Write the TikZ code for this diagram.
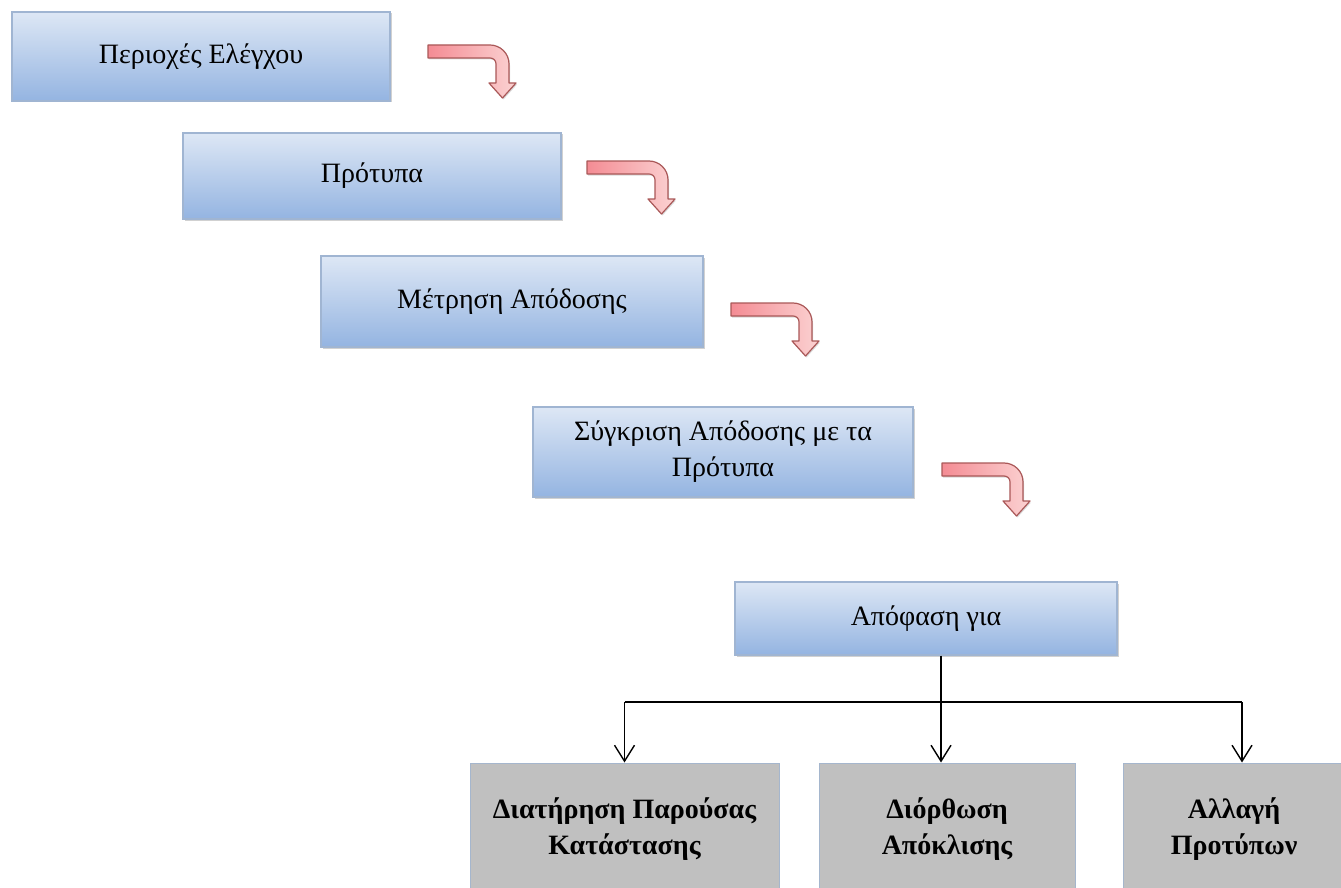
\documentclass[tikz,border=0pt]{standalone}
\usepackage{fontspec}
\setmainfont{Liberation Serif}
\usetikzlibrary{arrows.meta,shadows,calc}
\definecolor{btop}{RGB}{221,231,245}
\definecolor{bmid}{RGB}{198,214,239}
\definecolor{bbot}{RGB}{148,180,225}
\definecolor{bline}{RGB}{160,181,210}
\definecolor{gfill}{RGB}{192,192,192}
\definecolor{gline}{RGB}{165,182,205}
\definecolor{afillA}{RGB}{244,140,148}
\definecolor{afillB}{RGB}{251,210,210}
\definecolor{aline}{RGB}{170,88,88}
\tikzset{
  bluebox/.style={rectangle, draw=bline, line width=1.2pt, top color=btop, middle color=bmid, bottom color=bbot,
    inner sep=0pt, align=center, font=\fontsize{28}{36}\selectfont,
    drop shadow={shadow xshift=1.5pt, shadow yshift=-1.5pt, opacity=0.18, fill=black}},
  graybox/.style={rectangle, draw=gline, line width=1pt, fill=gfill, inner sep=0pt, align=center,
    font=\bfseries\fontsize{28}{36}\selectfont},
  conn/.style={line width=1.4pt, draw=black},
  connarrow/.style={conn, -{Straight Barb[length=16pt,width=20pt]}},
  redarrow/.style={draw=aline, line width=1.2pt, left color=afillA, right color=afillB, line join=round,
    drop shadow={shadow xshift=1pt, shadow yshift=-1.5pt, opacity=0.15, fill=black}},
  bendarrow/.pic={
    \path[redarrow] (0,0) -- (62,0) .. controls (72,0) and (81,8) .. (81,19) -- (81,38) -- (88,38)
      -- (74.5,53) -- (61,38) -- (68,38) -- (68,19) .. controls (68,15.5) and (65.5,13) .. (62,13)
      -- (0,13) -- cycle;
  }
}
\begin{document}
\begin{tikzpicture}[x=1pt,y=-1pt]
\useasboundingbox (0,0) rectangle (1341,888);
\clip (0,0) rectangle (1341,888);
\fill[white] (0,0) rectangle (1341,888);

% blue boxes
\node[bluebox, minimum width=378pt, minimum height=89pt] (b1) at (201,56.5) {Περιοχές Ελέγχου};
\node[bluebox, minimum width=378pt, minimum height=86pt] (b2) at (372,176) {Πρότυπα};
\node[bluebox, minimum width=382pt, minimum height=91pt] (b3) at (512,301.5) {Μέτρηση Απόδοσης};
\node[bluebox, minimum width=380pt, minimum height=90pt] (b4) at (723,452) {Σύγκριση Απόδοσης με τα\\Πρότυπα};
\node[bluebox, minimum width=382pt, minimum height=73pt] (b5) at (926,618.5) {Απόφαση για};

% red bent arrows
\pic at (428,45) {bendarrow};
\pic at (587,161) {bendarrow};
\pic at (731,303) {bendarrow};
\pic at (942,463) {bendarrow};

% gray boxes
\node[graybox, minimum width=309pt, minimum height=132pt] (ga) at (624.5,829) {Διατήρηση Παρούσας\\Κατάστασης};
\node[graybox, minimum width=256pt, minimum height=132pt] (gb) at (947,829) {Διόρθωση\\Απόκλισης};
\node[graybox, minimum width=222pt, minimum height=132pt] (gc) at (1234,829) {Αλλαγή\\Προτύπων};

% connectors
\coordinate (j) at (941,702);
\coordinate (jr) at (1242,702);
\draw[conn] (b5.south -| j) -- (j);
\draw[conn] (j -| ga.north) -- (jr);
\draw[connarrow] (j -| ga.north) -- (ga.north);
\draw[connarrow] (j) -- (j |- gb.north);
\draw[connarrow] (jr) -- (jr |- gc.north);
\end{tikzpicture}
\end{document}
